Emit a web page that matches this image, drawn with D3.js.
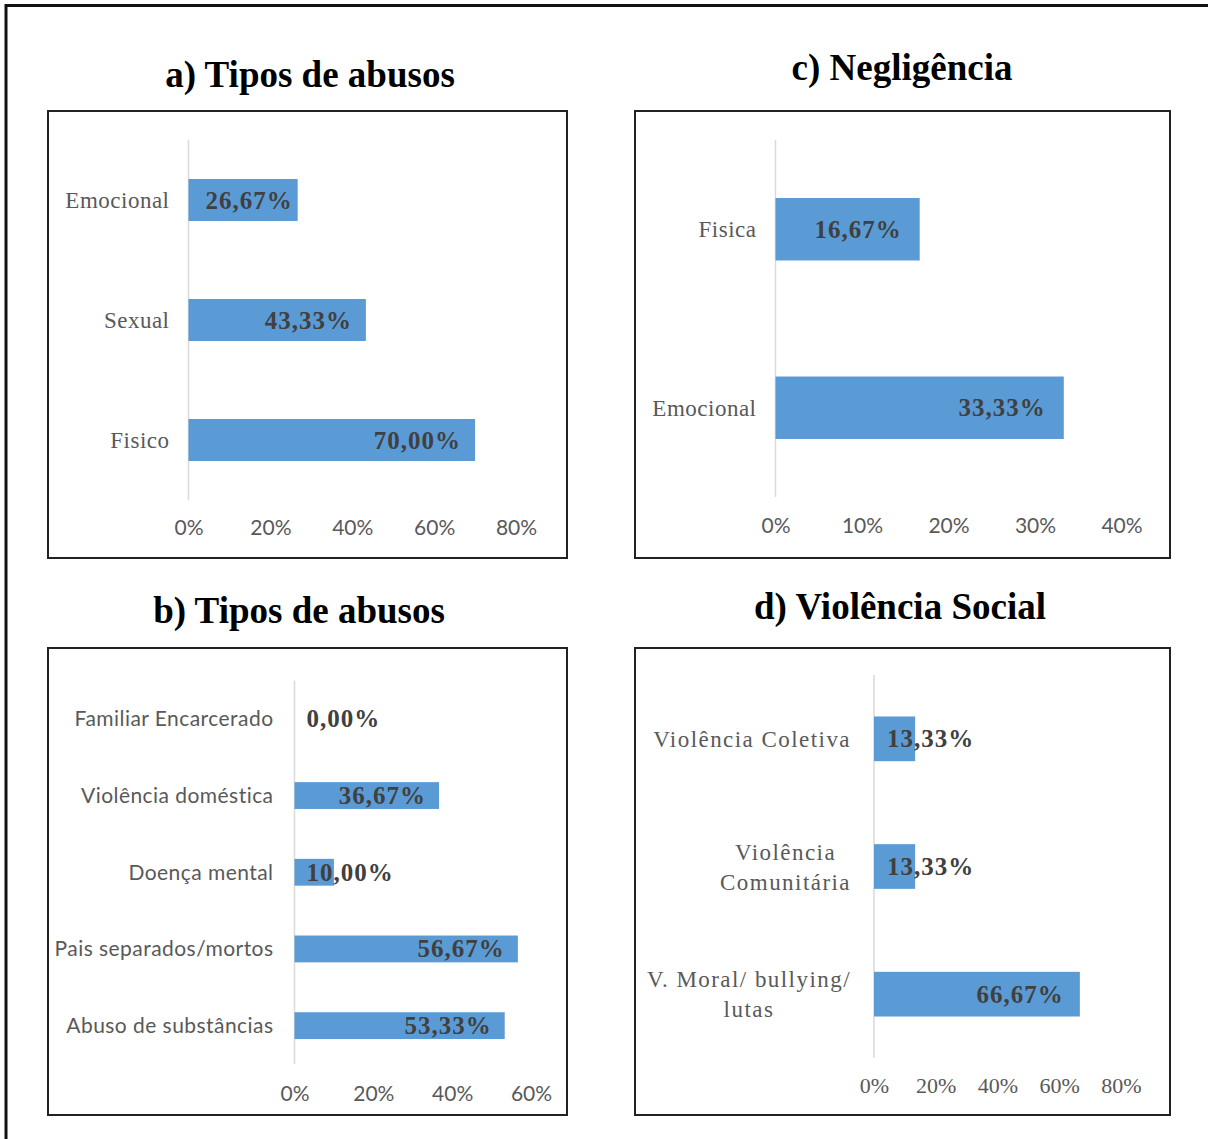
<!DOCTYPE html>
<html>
<head>
<meta charset="utf-8">
<script src="https://cdn.jsdelivr.net/npm/d3@7"></script>
<style>
body { margin: 0; background: #fff; }
svg { display: block; }
.title { font-family: "Liberation Serif", "Times New Roman", serif; font-weight: bold; font-size: 37px; fill: #000; }
.cat { font-family: "Liberation Serif", "Times New Roman", serif; font-size: 23px; fill: #595959; letter-spacing: 0.5px; }
.cat.sans { font-family: Lato, "Open Sans", sans-serif; font-size: 21px; letter-spacing: 0.45px; }
.cat.wide { letter-spacing: 1.45px; }
.val { font-family: "Liberation Serif", "Times New Roman", serif; font-weight: bold; font-size: 25px; fill: #404040; letter-spacing: 1px; }
.tick-lbl { font-family: Lato, "Open Sans", sans-serif; font-size: 21px; fill: #595959; }
.tick-lbl.serif { font-family: "Liberation Serif", "Times New Roman", serif; font-size: 22px; }
</style>
</head>
<body>
<div id="chart"></div>
<script>
// a) Tipos de abusos
var catsA = ["Emocional", "Sexual", "Fisico"];
var valsA = [26.67, 43.33, 70.00];
var ticksA = [0, 20, 40, 60, 80];

// c) Negligência
var catsC = ["Fisica", "Emocional"];
var valsC = [16.67, 33.33];
var ticksC = [0, 10, 20, 30, 40];

// b) Tipos de abusos
var catsB = ["Familiar Encarcerado", "Violência doméstica", "Doença mental", "Pais separados/mortos", "Abuso de substâncias"];
var valsB = [0.00, 36.67, 10.00, 56.67, 53.33];
var ticksB = [0, 20, 40, 60];

// d) Violência Social  (\n = wrapped label)
var catsD = ["Violência Coletiva", "Violência\nComunitária", "V. Moral/ bullying/\nlutas"];
var valsD = [13.33, 13.33, 66.67];
var ticksD = [0, 20, 40, 60, 80];

var fmt = function(v) { return v.toFixed(2).replace(".", ",") + "%"; };

var svg = d3.select("#chart").append("svg")
    .attr("width", 1208)
    .attr("height", 1139);

// outer frame (only left and top edges show in the picture)
svg.append("path")
    .attr("d", "M6,1139V5.5H1208")
    .attr("fill", "none")
    .attr("stroke", "#111")
    .attr("stroke-width", 3);

var panels = [
    { title: "a) Tipos de abusos", tx: 310, ty: 87, box: [48, 111, 519, 447],
      cats: catsA, vals: valsA, ticks: ticksA, xr: [188.5, 516], yr: [140, 500],
      tickY: 534.6, catCls: "cat", tickCls: "tick-lbl", gap: 19, pad: 14, padStart: 17 },
    { title: "c) Negligência", tx: 902, ty: 79.5, box: [635, 111, 535, 447],
      cats: catsC, vals: valsC, ticks: ticksC, xr: [775.5, 1121.5], yr: [140, 497],
      tickY: 533, catCls: "cat", tickCls: "tick-lbl", gap: 19, pad: 18, padStart: 14 },
    { title: "b) Tipos de abusos", tx: 299, ty: 623, box: [48, 648, 519, 467],
      cats: catsB, vals: valsB, ticks: ticksB, xr: [294.5, 531], yr: [680.5, 1064],
      tickY: 1100.5, catCls: "cat sans", tickCls: "tick-lbl", gap: 21, pad: 13, padStart: 12 },
    { title: "d) Violência Social", tx: 900, ty: 619, box: [635, 648, 535, 467],
      cats: catsD, vals: valsD, ticks: ticksD, xr: [874, 1121], yr: [675, 1058],
      tickY: 1093, catCls: "cat wide", tickCls: "tick-lbl serif", gap: 23, pad: 16, padStart: 13 }
];

panels.forEach(function(p) {
    var g = svg.append("g");

    g.append("rect")
        .attr("x", p.box[0])
        .attr("y", p.box[1])
        .attr("width", p.box[2])
        .attr("height", p.box[3])
        .attr("fill", "#fff")
        .attr("stroke", "#222")
        .attr("stroke-width", 2);

    g.append("text")
        .attr("class", "title")
        .attr("x", p.tx)
        .attr("y", p.ty)
        .attr("text-anchor", "middle")
        .text(p.title);

    var data = p.cats.map(function(c, i) { return { key: c, value: p.vals[i] }; });

    var x = d3.scaleLinear()
        .domain([0, p.ticks[p.ticks.length - 1]])
        .range(p.xr);

    var y = d3.scaleBand()
        .domain(p.cats)
        .range(p.yr)
        .paddingInner(0.65)
        .paddingOuter(0.325);

    // category axis line
    g.append("line")
        .attr("x1", x(0)).attr("x2", x(0))
        .attr("y1", p.yr[0]).attr("y2", p.yr[1])
        .attr("stroke", "#d9d9d9")
        .attr("stroke-width", 1.5);

    // value axis: labels only
    var xAxis = d3.axisBottom(x)
        .tickValues(p.ticks)
        .tickSize(0)
        .tickFormat(function(d) { return d + "%"; });

    var ax = g.append("g")
        .attr("transform", "translate(0," + p.tickY + ")")
        .call(xAxis);
    ax.select(".domain").remove();
    ax.selectAll("text")
        .attr("class", p.tickCls)
        .attr("y", 0)
        .attr("dy", 0)
        .attr("fill", null);
    ax.attr("font-family", null).attr("font-size", null);

    g.selectAll(".bar")
        .data(data)
        .enter()
        .append("rect")
        .attr("class", "bar")
        .attr("x", x(0))
        .attr("y", function(d) { return y(d.key); })
        .attr("width", function(d) { return x(d.value) - x(0); })
        .attr("height", y.bandwidth())
        .attr("fill", "#5b9bd5");

    // category labels, wrapped lines centred on each other, block right aligned
    var lh = 30;
    data.forEach(function(d) {
        var lines = d.key.split("\n");
        var cy = y(d.key) + y.bandwidth() / 2;
        var right = x(0) - p.gap;
        var t = g.selectAll(null)
            .data(lines)
            .enter()
            .append("text")
            .attr("class", p.catCls)
            .attr("y", function(l, i) { return cy + (i - (lines.length - 1) / 2) * lh; })
            .attr("dy", "0.35em")
            .attr("text-anchor", "middle")
            .text(function(l) { return l; });
        var maxW = 0;
        t.each(function() { maxW = Math.max(maxW, this.getComputedTextLength()); });
        t.attr("x", right - maxW / 2);
    });

    // value labels at inside end, pushed right when the bar is too short
    g.selectAll(".val")
        .data(data)
        .enter()
        .append("text")
        .attr("class", "val")
        .attr("y", function(d) { return y(d.key) + y.bandwidth() / 2; })
        .attr("dy", "0.34em")
        .attr("text-anchor", "end")
        .text(function(d) { return fmt(d.value); })
        .attr("x", function(d) {
            var w = this.getComputedTextLength();
            return Math.max(x(d.value) - p.pad, x(0) + p.padStart + w);
        });
});
</script>
</body>
</html>
